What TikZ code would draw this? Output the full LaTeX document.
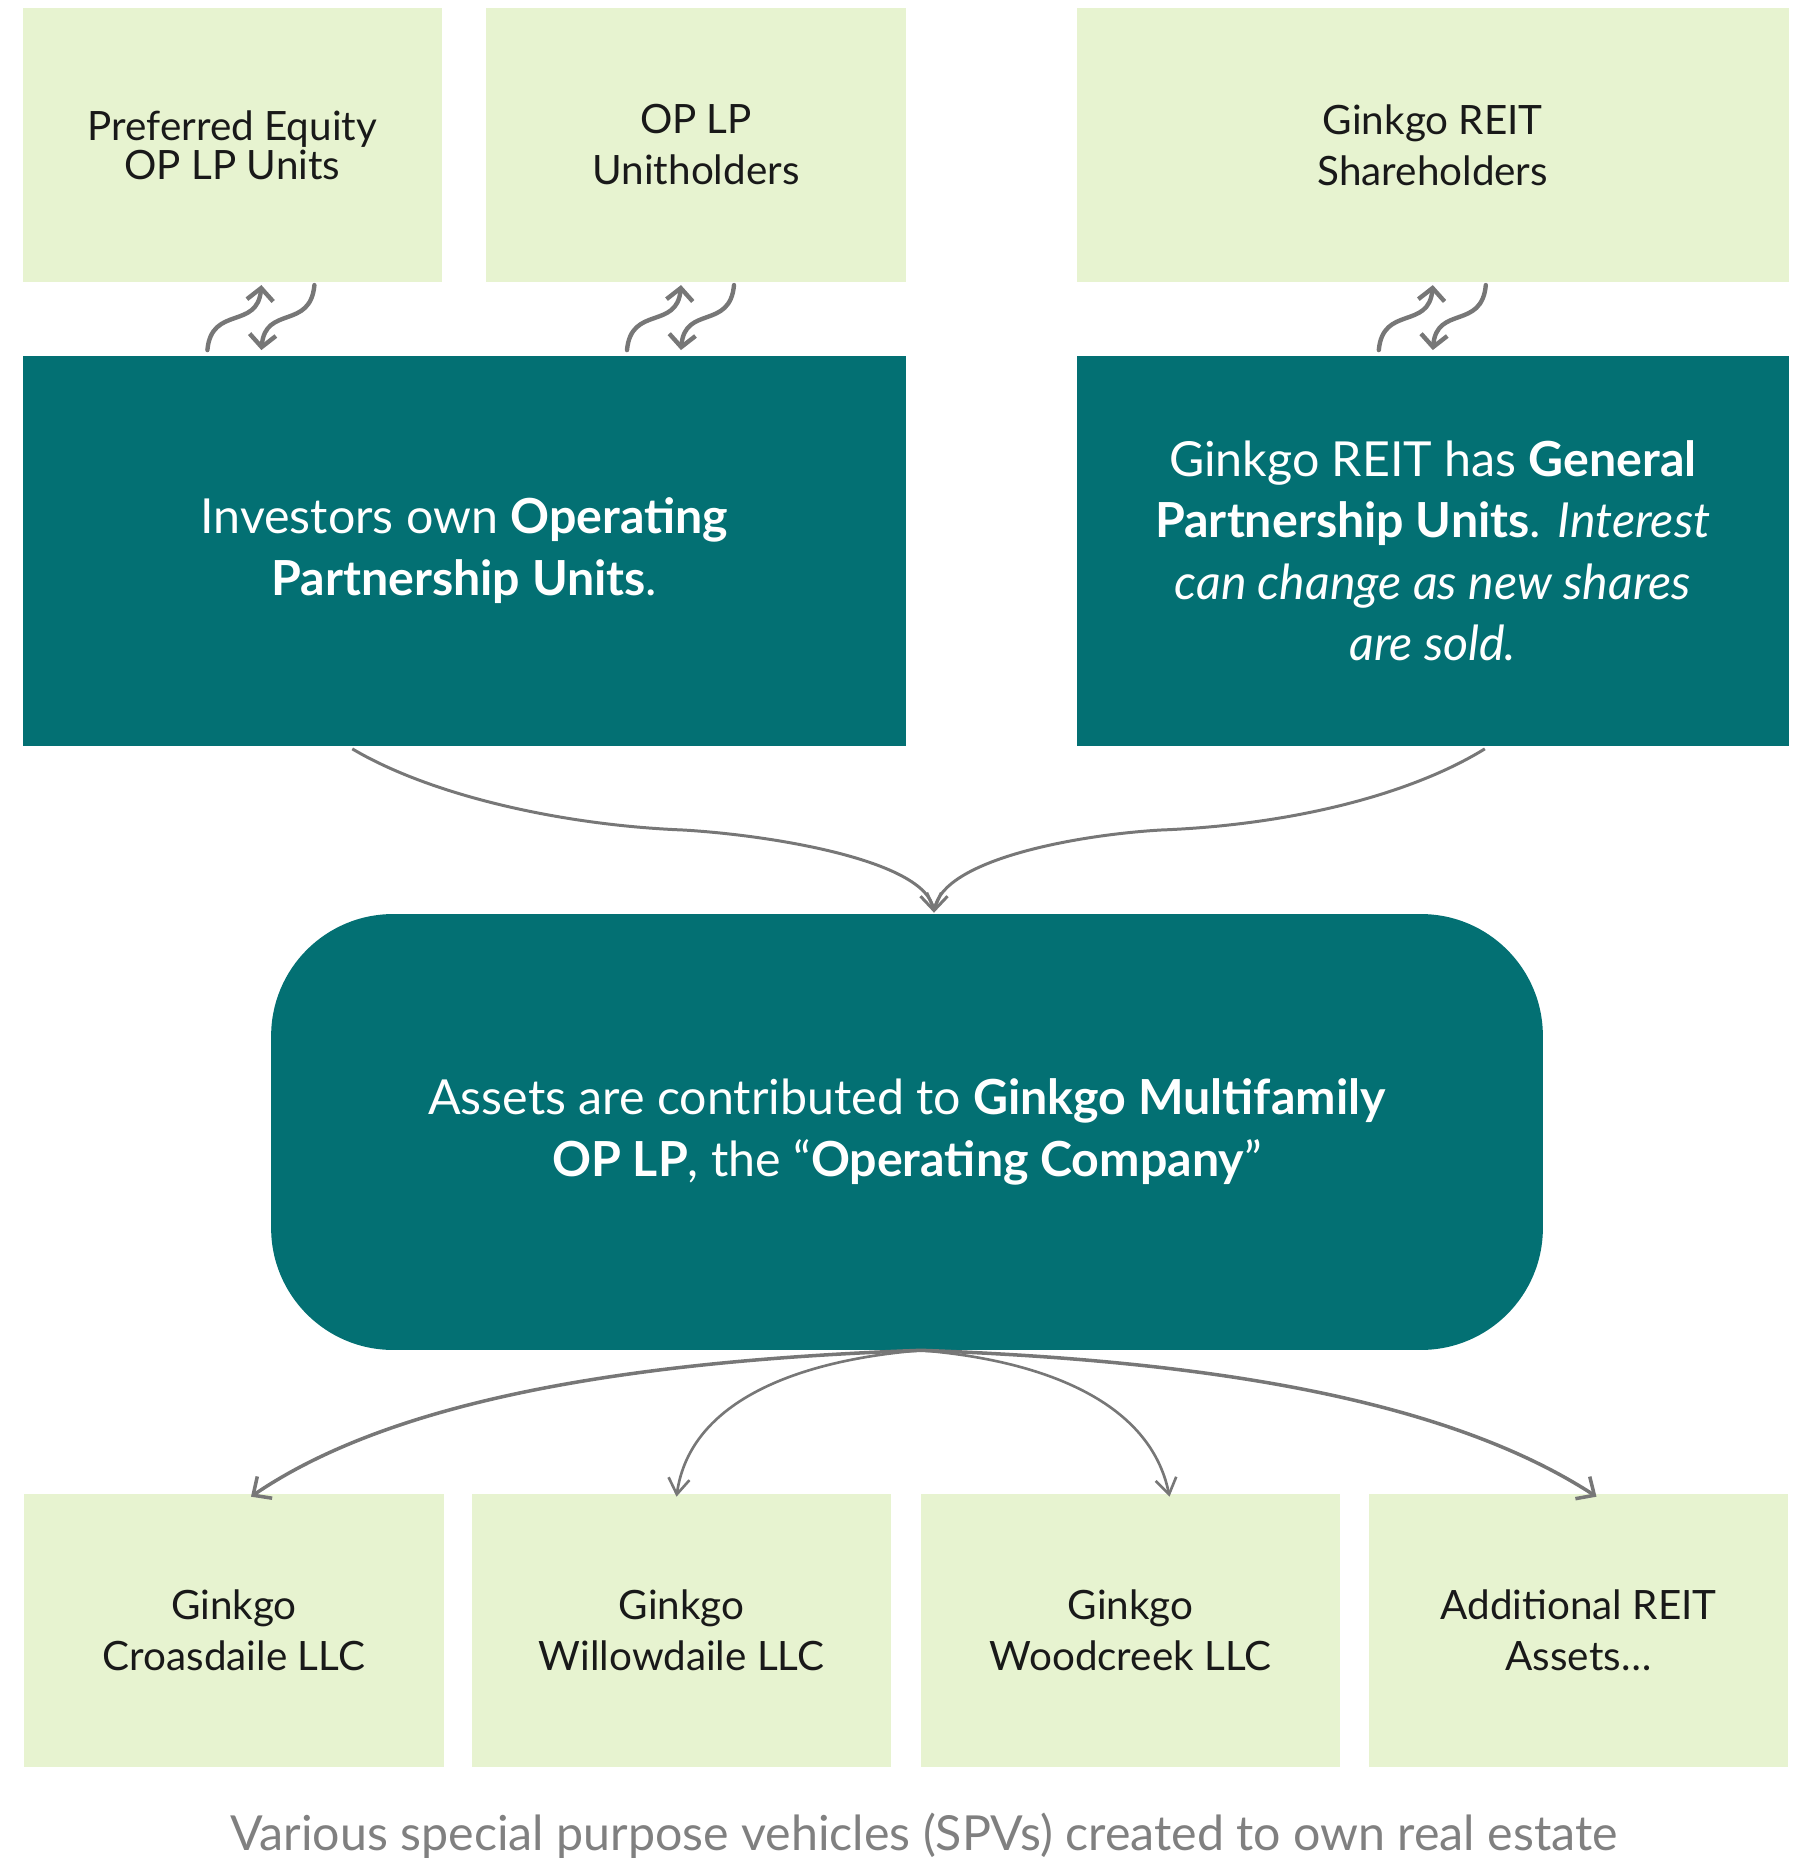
\documentclass[tikz,border=0pt]{standalone}
\usepackage{fontspec}
\setmainfont{Lato}
\usetikzlibrary{arrows.meta,calc}

\definecolor{leafgreen}{HTML}{E7F3D0}
\definecolor{ginkgoteal}{HTML}{037073}
\definecolor{arrowgrey}{HTML}{777777}
\definecolor{captiongrey}{HTML}{808080}

\tikzset{
  holderbox/.style={fill=leafgreen, text=black!90, align=center, inner sep=0pt,
    minimum width=8.39cm, minimum height=5.47cm, font=\fontsize{23}{29}\selectfont},
  spvbox/.style={holderbox, minimum width=8.38cm, minimum height=5.46cm},
  unitbox/.style={fill=ginkgoteal, text=white, align=center, inner sep=0pt,
    minimum height=7.79cm, font=\fontsize{27.5}{35}\selectfont},
  unitswap/.style={draw=arrowgrey, line width=2.5pt, line cap=round,
    -{Straight Barb[length=7pt,width=15pt]}},
  feedarrow/.style={draw=arrowgrey, line width=1.7pt,
    -{Straight Barb[length=9pt,width=12pt]}}
}

\begin{document}
\begin{tikzpicture}[x=0.02cm, y=-0.02cm]
  \useasboundingbox (0,0) rectangle (1810,1858);

  % holders
  \node[holderbox, font=\fontsize{23}{22}\selectfont] (pref) at (232.4,145) {Preferred Equity\\OP LP Units};
  \node[holderbox, minimum width=8.40cm] (oplp) at (696,145) {OP LP\\Unitholders};
  \node[holderbox, minimum width=14.25cm] (reitsh) at (1432.8,145) {Ginkgo REIT\\Shareholders};

  % partnership units
  \node[unitbox, minimum width=17.67cm] (inv) at (464.3,550.8)
    {Investors own \textbf{Operating}\\\textbf{Partnership Units}.};
  \node[unitbox, minimum width=14.25cm] (gp) at (1432.8,550.8)
    {Ginkgo REIT has \textbf{General}\\\textbf{Partnership Units}. \textit{Interest}\\\textit{can change as new shares}\\\textit{are sold.}};

  % operating company
  \node[unitbox, rounded corners=2.44cm, minimum width=25.44cm, minimum height=8.72cm] (opco) at (907,1132)
    {Assets are contributed to \textbf{Ginkgo Multifamily}\\\textbf{OP LP}, the “\textbf{Operating Company}”};

  % SPVs
  \node[spvbox, minimum width=8.40cm] (croas) at (234,1630.5) {Ginkgo\\Croasdaile LLC};
  \node[spvbox] (willow) at (681.5,1630.5) {Ginkgo\\Willowdaile LLC};
  \node[spvbox] (wood) at (1130.5,1630.5) {Ginkgo\\Woodcreek LLC};
  \node[spvbox] (addl) at (1578.5,1630.5) {Additional REIT\\Assets…};

  \node[anchor=base, text=captiongrey, font=\fontsize{27.5}{33}\selectfont] (spvnote) at (924,1850)
    {Various special purpose vehicles (SPVs) created to own real estate};

  % swaps between holders and units
  \foreach \hold/\dx in {pref/29, oplp/-15, reitsh/0} {
    \draw[unitswap] ($(\hold.south)+(\dx-54,68)$) .. controls +(4,-45) and +(-4,45) .. ($(\hold.south)+(\dx,3)$);
    \draw[unitswap] ($(\hold.south)+(\dx+53,3)$) .. controls +(-4,45) and +(4,-45) .. ($(\hold.south)+(\dx,68)$);
  }

  \coordinate (meet) at ($(opco.north)+(27,-1)$);
  \coordinate (fan) at ($(opco.south)+(14,0)$);

  \draw[feedarrow] ($(inv.south)+(-112,3)$) .. controls (430,795) and (560,825) .. (683,830)
    .. controls (770,835) and (925,860) .. (meet);
  \draw[feedarrow] ($(gp.south)+(52,3)$) .. controls (1410,795) and (1290,825) .. (1161,830)
    .. controls (1075,835) and (943,860) .. (meet);

  \draw[feedarrow, line width=2pt, -{Straight Barb[length=8pt,width=15pt]}] (fan) .. controls (650,1360) and (400,1395) .. ($(croas.north)+(17,3)$);
  \draw[feedarrow, line width=1.5pt] (fan) .. controls (800,1360) and (690,1400) .. ($(willow.north)+(-5,3)$);
  \draw[feedarrow, line width=1.5pt] (fan) .. controls (1040,1360) and (1150,1400) .. ($(wood.north)+(39,3)$);
  \draw[feedarrow, line width=2pt, -{Straight Barb[length=8pt,width=15pt]}] (fan) .. controls (1190,1360) and (1440,1395) .. ($(addl.north)+(18,3)$);
\end{tikzpicture}
\end{document}
